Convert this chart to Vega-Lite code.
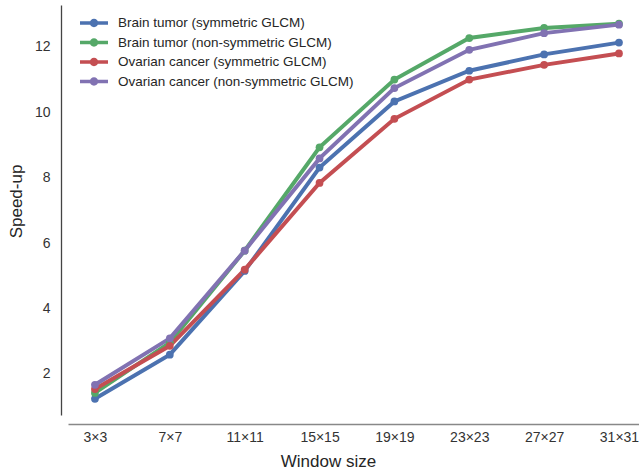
{
  "$schema": "https://vega.github.io/schema/vega-lite/v6.json",
  "autosize": "none",
  "width": 571,
  "height": 410,
  "padding": {"left": 68, "top": 5, "right": 0, "bottom": 60},
  "background": "white",
  "config": {
    "view": {"stroke": null},
    "font": "Liberation Sans",
    "axis": {"grid": false, "ticks": false, "domainWidth": 1.3, "labelFontSize": 14, "labelColor": "#333333", "titleFontSize": 17, "titleFontWeight": "normal", "titleColor": "#262626"}
  },
  "data": {"values": [
    {"w": 3, "s": "Brain tumor (symmetric GLCM)", "v": 1.24},
    {"w": 7, "s": "Brain tumor (symmetric GLCM)", "v": 2.59},
    {"w": 11, "s": "Brain tumor (symmetric GLCM)", "v": 5.15},
    {"w": 15, "s": "Brain tumor (symmetric GLCM)", "v": 8.31},
    {"w": 19, "s": "Brain tumor (symmetric GLCM)", "v": 10.33},
    {"w": 23, "s": "Brain tumor (symmetric GLCM)", "v": 11.27},
    {"w": 27, "s": "Brain tumor (symmetric GLCM)", "v": 11.77},
    {"w": 31, "s": "Brain tumor (symmetric GLCM)", "v": 12.13},
    {"w": 3, "s": "Brain tumor (non-symmetric GLCM)", "v": 1.42},
    {"w": 7, "s": "Brain tumor (non-symmetric GLCM)", "v": 2.96},
    {"w": 11, "s": "Brain tumor (non-symmetric GLCM)", "v": 5.77},
    {"w": 15, "s": "Brain tumor (non-symmetric GLCM)", "v": 8.93},
    {"w": 19, "s": "Brain tumor (non-symmetric GLCM)", "v": 11.0},
    {"w": 23, "s": "Brain tumor (non-symmetric GLCM)", "v": 12.27},
    {"w": 27, "s": "Brain tumor (non-symmetric GLCM)", "v": 12.58},
    {"w": 31, "s": "Brain tumor (non-symmetric GLCM)", "v": 12.71},
    {"w": 3, "s": "Ovarian cancer (symmetric GLCM)", "v": 1.54},
    {"w": 7, "s": "Ovarian cancer (symmetric GLCM)", "v": 2.86},
    {"w": 11, "s": "Ovarian cancer (symmetric GLCM)", "v": 5.19},
    {"w": 15, "s": "Ovarian cancer (symmetric GLCM)", "v": 7.84},
    {"w": 19, "s": "Ovarian cancer (symmetric GLCM)", "v": 9.8},
    {"w": 23, "s": "Ovarian cancer (symmetric GLCM)", "v": 11.0},
    {"w": 27, "s": "Ovarian cancer (symmetric GLCM)", "v": 11.45},
    {"w": 31, "s": "Ovarian cancer (symmetric GLCM)", "v": 11.8},
    {"w": 3, "s": "Ovarian cancer (non-symmetric GLCM)", "v": 1.67},
    {"w": 7, "s": "Ovarian cancer (non-symmetric GLCM)", "v": 3.09},
    {"w": 11, "s": "Ovarian cancer (non-symmetric GLCM)", "v": 5.77},
    {"w": 15, "s": "Ovarian cancer (non-symmetric GLCM)", "v": 8.59},
    {"w": 19, "s": "Ovarian cancer (non-symmetric GLCM)", "v": 10.74},
    {"w": 23, "s": "Ovarian cancer (non-symmetric GLCM)", "v": 11.91},
    {"w": 27, "s": "Ovarian cancer (non-symmetric GLCM)", "v": 12.42},
    {"w": 31, "s": "Ovarian cancer (non-symmetric GLCM)", "v": 12.68}
  ]},
  "encoding": {
    "x": {"field": "w", "type": "quantitative", "title": "Window size",
      "scale": {"domain": [1.56, 32.07], "nice": false, "zero": false},
      "axis": {"values": [3, 7, 11, 15, 19, 23, 27, 31], "labelExpr": "datum.value + '×' + datum.value", "offset": 9, "domainColor": "#888888", "labelPadding": 6, "titlePadding": 9, "titleX": 260, "titleAlign": "center", "labelFlush": false}},
    "y": {"field": "v", "type": "quantitative", "title": "Speed-up",
      "scale": {"domain": [0.746, 13.28], "nice": false, "zero": false},
      "axis": {"values": [2, 4, 6, 8, 10, 12], "offset": 7, "domainColor": "#444444", "labelPadding": 11, "titlePadding": 9, "titleY": 196, "titleBaseline": "bottom"}},
    "color": {"field": "s", "type": "nominal", "title": null,
      "scale": {"domain": ["Brain tumor (symmetric GLCM)", "Brain tumor (non-symmetric GLCM)", "Ovarian cancer (symmetric GLCM)", "Ovarian cancer (non-symmetric GLCM)"], "range": ["#4C72B0", "#55A868", "#C44E52", "#8172B2"]},
      "legend": {"orient": "none", "legendX": 19, "legendY": 11, "padding": 0, "labelFontSize": 13.5, "labelLimit": 0, "labelColor": "#262626", "symbolSize": 196, "rowPadding": 5.5, "labelOffset": 17,
        "symbolType": "M-2,-0.26L2,-0.26L2,0.26L-2,0.26Z M-0.6,0A0.6,0.6 0 1,1 0.6,0A0.6,0.6 0 1,1 -0.6,0Z",
        "symbolStrokeWidth": 0,
        "encode": {"symbols": {"update": {"fill": {"scale": "color", "field": "value"}, "stroke": {"value": "transparent"}, "opacity": {"value": 1}}}}}}
  },
  "layer": [
    {"mark": {"type": "line", "strokeWidth": 4}},
    {"mark": {"type": "point", "filled": true, "size": 60, "opacity": 1}}
  ]
}
